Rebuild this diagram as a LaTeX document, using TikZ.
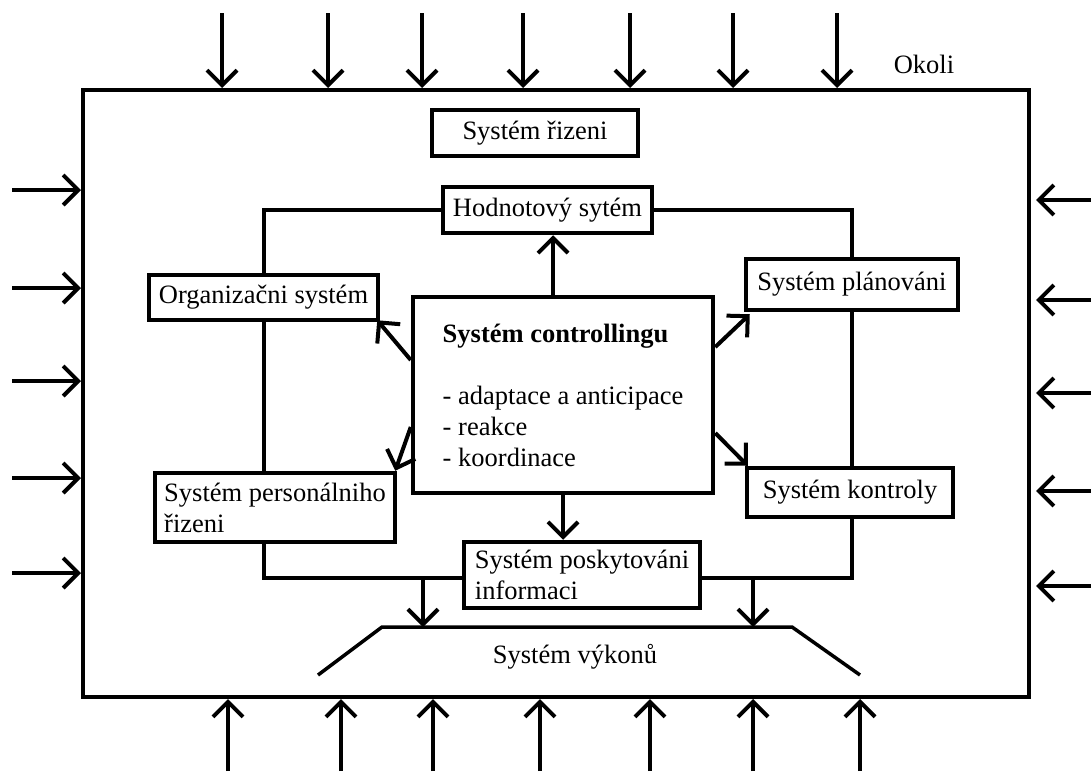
\documentclass[tikz,border=0pt]{standalone}
\usepackage{fontspec}
\setmainfont{Liberation Serif}
\usetikzlibrary{arrows.meta}

\begin{document}
\begin{tikzpicture}[x=1pt, y=-1pt, line width=4pt,
    >={Straight Barb[length=15pt, width=30pt]},
    every node/.style={font=\fontsize{26.5}{31}\selectfont},
    sysbox/.style={draw, inner sep=0pt, line width=4.5pt},
    wire/.style={line width=4pt}]
  \useasboundingbox (0,0) rectangle (1091,771);
  \node[draw, minimum width=946, minimum height=607, inner sep=0pt] (okoli) at (556,393.5) {};
  \node (okolitxt) at (924,64) {Okoli};

  \node[sysbox, minimum width=206, minimum height=46] (rizeni) at (535,133) {Systém řizeni};
  \node[sysbox, minimum width=209, minimum height=46] (hodnot) at (547.5,210) {Hodnotový sytém};
  \node[sysbox, minimum width=229, minimum height=45] (organ) at (263.5,297.5) {Organizačni systém};
  \node[sysbox, minimum width=212, minimum height=51] (plan) at (852,284.5) {Systém plánováni};
  \node[sysbox, minimum width=206, minimum height=49] (kontrol) at (850,492.5) {Systém kontroly};
  \node[sysbox, minimum width=240, minimum height=69, align=left] (personal) at (275,507.5) {Systém personálniho\\řizeni};
  \node[sysbox, minimum width=236, minimum height=66, align=left] (inform) at (582,575) {Systém poskytováni\\informaci};
  \node[sysbox, minimum width=300, minimum height=196, align=left] (ctrl) at (563,395) {\textbf{Systém controllingu}\\[31pt]- adaptace a anticipace\\- reakce\\- koordinace};

  \coordinate (vyk-tl) at (382,627);
  \coordinate (vyk-tr) at (792,627);
  \coordinate (vyk-bl) at (318,675);
  \coordinate (vyk-br) at (860,675);
  \coordinate (vyk-a) at (423,627);
  \coordinate (vyk-b) at (753,627);
  \node (vykon) at (575,657) {Systém výkonů};
  \draw[line width=3.5pt] (vyk-bl) -- (vyk-tl) -- (vyk-tr) -- (vyk-br);

  \draw[wire] (organ.north) |- (hodnot.west);
  \draw[wire] (plan.north) |- (hodnot.east);
  \draw[wire] (organ.south) -- (organ.south |- personal.north);
  \draw[wire] (plan.south) -- (plan.south |- kontrol.north);
  \draw[wire] (personal.south -| organ.south) |- ([yshift=-3pt]inform.west);
  \draw[wire] (kontrol.south -| plan.south) |- ([yshift=-3pt]inform.east);
  \draw[->] ([yshift=-3pt]inform.west -| vyk-a) -- (vyk-a);
  \draw[->] ([yshift=-3pt]inform.east -| vyk-b) -- (vyk-b);

  \coordinate (up) at ([xshift=-10pt]ctrl.north);
  \draw[->] (up) -- (up |- hodnot.south);
  \draw[->] (ctrl.south) -- (ctrl.south |- inform.north);
  \draw[->] ([yshift=35pt]ctrl.west) -- ([shift={(-3pt,2pt)}]organ.south east);
  \draw[->] ([yshift=-32pt]ctrl.west) -- ([xshift=-2pt]personal.north east);
  \draw[->] ([yshift=48pt]ctrl.east) -- ([shift={(6pt,-2pt)}]plan.south west);
  \draw[->] ([yshift=-38pt]ctrl.east) -- ([xshift=3pt]kontrol.north west);

  \foreach \x in {222,328,422,523,630,733,837}
    \draw[->] (\x,13) -- (\x,13 |- okoli.north);
  \foreach \x in {228,341,433,540,650,753,860}
    \draw[->] (\x,771) -- (\x,771 |- okoli.south);
  \foreach \y in {190,288,381,478,573}
    \draw[->] (12,\y) -- (12,\y -| okoli.west);
  \foreach \y in {200,300,393,491,586}
    \draw[->, shorten >=5pt] (1091,\y) -- (1091,\y -| okoli.east);
\end{tikzpicture}
\end{document}
